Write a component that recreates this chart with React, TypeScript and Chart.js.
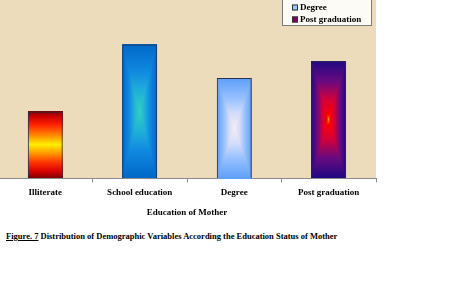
import React, { useEffect, useRef } from "react";
import { Chart, registerables } from "chart.js";

Chart.register(...registerables);

const categories = ["Illiterate", "School education", "Degree", "Post graduation"];
const values = [16, 32, 24, 28];
const yMax = 50;
const axisTitle = "Education of Mother";
const captionLead = "Figure. 7";
const captionText = " Distribution of Demographic Variables According the Education Status of Mother";

// styles (not data)
const legendMarkerColors = ["#f04000", "#0070c8", "#99ccff", "#800060"];
type Fill = { kind: "linear" | "rect"; stops: [number, string][] };
const barFills: Fill[] = [
  {
    kind: "linear",
    stops: [
      [0, "#7a0000"], [0.08, "#c80000"], [0.2, "#ff2000"], [0.35, "#ff8000"],
      [0.5, "#ffee00"], [0.62, "#ffa000"], [0.76, "#ff3800"], [0.9, "#d80000"], [1, "#800000"],
    ],
  },
  { kind: "rect", stops: [[0, "#30d0c0"], [0.3, "#20b0d8"], [0.6, "#1088e0"], [1, "#0068c8"]] },
  { kind: "rect", stops: [[0, "#f4ecf4"], [0.3, "#d4dcf8"], [0.6, "#96c0ff"], [1, "#5e9ef8"]] },
  { kind: "rect", stops: [[0, "#ffa000"], [0.08, "#ff0000"], [0.35, "#d0003c"], [0.65, "#6a0a80"], [1, "#1e0882"]] },
];
const FONT = "'Liberation Serif', 'Times New Roman', serif";

function hexToRgb(h: string) {
  const n = parseInt(h.slice(1), 16);
  return [(n >> 16) & 255, (n >> 8) & 255, n & 255];
}
function sample(stops: [number, string][], t: number) {
  for (let i = 1; i < stops.length; i++) {
    if (t <= stops[i][0]) {
      const [t0, c0] = stops[i - 1];
      const [t1, c1] = stops[i];
      const f = t1 === t0 ? 0 : (t - t0) / (t1 - t0);
      const a = hexToRgb(c0), b = hexToRgb(c1);
      return [0, 1, 2].map((k) => Math.round(a[k] + (b[k] - a[k]) * f));
    }
  }
  return hexToRgb(stops[stops.length - 1][1]);
}

const bgPlugin = {
  id: "plotBg",
  beforeDraw(chart: any) {
    const { ctx, chartArea } = chart;
    ctx.save();
    ctx.fillStyle = "#ecdcbc";
    ctx.fillRect(chartArea.left, chartArea.top, chartArea.right - chartArea.left, chartArea.bottom - chartArea.top);
    ctx.restore();
  },
};

const gradientBarsPlugin = {
  id: "gradientBars",
  beforeDatasetsDraw(chart: any) {
    const meta = chart.getDatasetMeta(0);
    const ctx = chart.ctx;
    meta.data.forEach((bar: any, i: number) => {
      const p = bar.getProps(["x", "y", "base", "width"], true);
      const left = Math.round(p.x - p.width / 2);
      const w = Math.round(p.width);
      const top = Math.round(Math.min(p.y, p.base));
      const h = Math.round(Math.abs(p.base - p.y));
      if (w <= 0 || h <= 0) return;
      const off = document.createElement("canvas");
      off.width = w;
      off.height = h;
      const octx = off.getContext("2d")!;
      const img = octx.createImageData(w, h);
      const fill = barFills[i % barFills.length];
      for (let j = 0; j < h; j++) {
        for (let k = 0; k < w; k++) {
          let t: number;
          if (fill.kind === "linear") {
            t = (j + 0.5) / h;
          } else {
            const dx = Math.abs((k + 0.5 - w / 2) / (w / 2));
            const dy = Math.abs((j + 0.5 - h / 2) / (h / 2));
            t = Math.max(dx, dy);
          }
          const c = sample(fill.stops, Math.min(1, t));
          const idx = (j * w + k) * 4;
          img.data[idx] = c[0];
          img.data[idx + 1] = c[1];
          img.data[idx + 2] = c[2];
          img.data[idx + 3] = 255;
        }
      }
      octx.putImageData(img, 0, 0);
      ctx.drawImage(off, left, top);
    });
  },
};

const legendPlugin = {
  id: "boxLegend",
  afterDraw(chart: any) {
    const { ctx, chartArea } = chart;
    const labels: string[] = chart.data.labels;
    const right = chartArea.right - 4;
    const boxW = 90;
    const left = right - boxW;
    const rowH = 12;
    const top = chartArea.top + 7;
    const boxH = rowH * labels.length + 2;
    ctx.save();
    ctx.fillStyle = "#fdfbf6";
    ctx.fillRect(left, top, boxW, boxH);
    ctx.strokeStyle = "#7a7a7a";
    ctx.lineWidth = 1;
    ctx.strokeRect(left + 0.5, top + 0.5, boxW - 1, boxH - 1);
    ctx.font = `bold 9px ${FONT}`;
    ctx.textBaseline = "middle";
    ctx.textAlign = "left";
    labels.forEach((lab, i) => {
      const cy = top + 7.5 + i * rowH;
      ctx.fillStyle = legendMarkerColors[i];
      ctx.fillRect(left + 10, cy - 3, 6, 6);
      ctx.strokeStyle = "#333";
      ctx.strokeRect(left + 10.5, cy - 2.5, 5, 5);
      ctx.fillStyle = "#000";
      ctx.fillText(lab, left + 18, cy);
    });
    ctx.restore();
  },
};

export default function App() {
  const ref = useRef<HTMLCanvasElement>(null);
  useEffect(() => {
    if (!ref.current) return;
    const chart = new Chart(ref.current, {
      type: "bar",
      data: {
        labels: categories,
        datasets: [
          {
            data: values,
            backgroundColor: "rgba(0,0,0,0)",
            borderColor: "#2a3050",
            borderWidth: 1,
            barPercentage: 0.74,
            categoryPercentage: 0.5,
          },
        ],
      },
      options: {
        animation: false,
        responsive: false,
        maintainAspectRatio: false,
        layout: { padding: { top: 9, right: 93, bottom: 4, left: 0 } },
        plugins: { legend: { display: false }, tooltip: { enabled: false }, title: { display: false } },
        scales: {
          y: { display: false, min: 0, max: yMax },
          x: {
            border: { display: true, color: "#8a8a8a", width: 1 },
            grid: { display: true, drawOnChartArea: false, drawTicks: true, tickLength: 4, color: "#8a8a8a" },
            ticks: { color: "#000", padding: 5, maxRotation: 0, font: { family: FONT, weight: "bold", size: 9 } },
            title: {
              display: true,
              text: axisTitle,
              color: "#000",
              padding: { top: 4, bottom: 0 },
              font: { family: FONT, weight: "bold", size: 9 },
            },
          },
        },
      },
      plugins: [bgPlugin, gradientBarsPlugin, legendPlugin],
    });
    return () => chart.destroy();
  }, []);

  return (
    <div style={{ position: "absolute", left: 0, top: 0, width: 469, height: 302, overflow: "hidden", background: "#fff" }}>
      <canvas ref={ref} width={471} height={262} style={{ position: "absolute", left: -2, top: -40, width: 471, height: 262 }} />
      <div
        style={{
          position: "absolute",
          left: 6,
          top: 231,
          fontFamily: FONT,
          fontWeight: "bold",
          fontSize: 8.5,
          lineHeight: "10px",
          whiteSpace: "nowrap",
          color: "#000",
        }}
      >
        <span style={{ textDecoration: "underline" }}>{captionLead}</span>
        {captionText}
      </div>
    </div>
  );
}
